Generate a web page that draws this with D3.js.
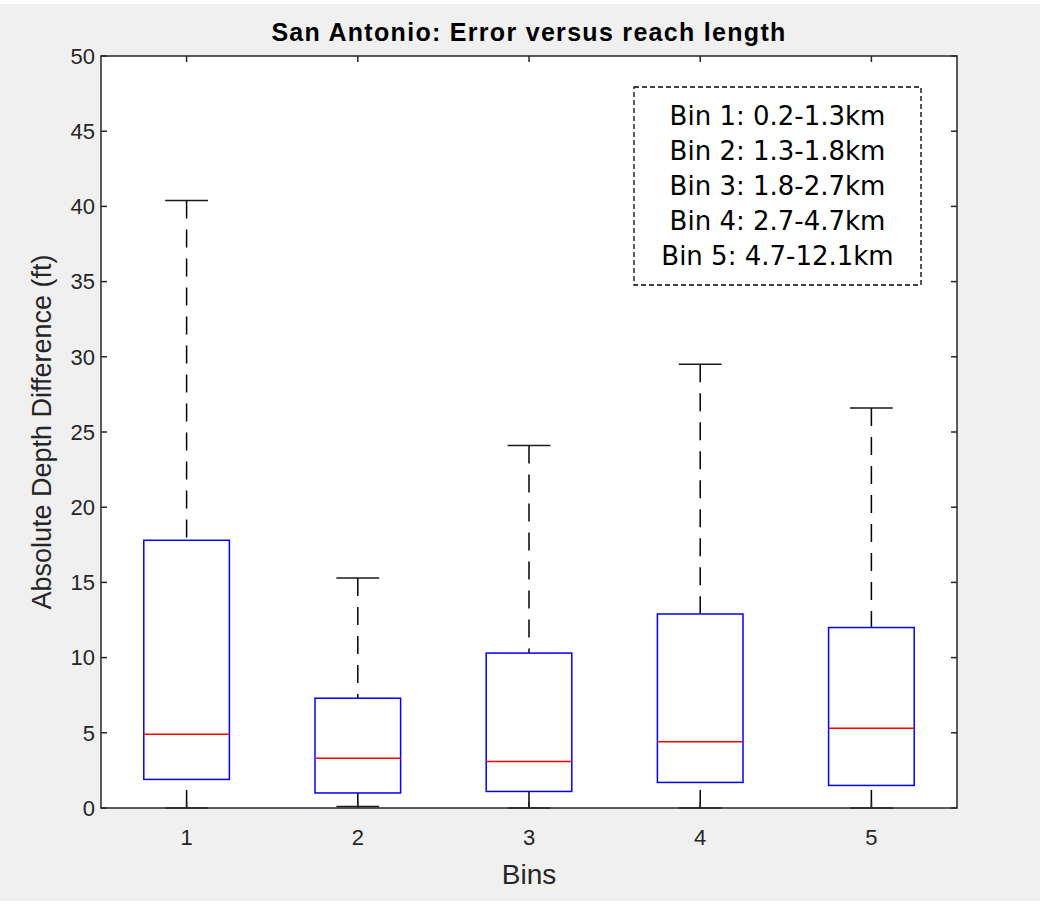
<!DOCTYPE html>
<html>
<head>
<meta charset="utf-8">
<script src="https://cdn.jsdelivr.net/npm/d3@7"></script>
<style>
  html, body { margin: 0; padding: 0; background: #ffffff; }
  svg { display: block; }
</style>
</head>
<body>
<svg id="chart" width="1040" height="905"></svg>
<script>
// Box-plot statistics per reach-length bin (ft)
const bins = [1, 2, 3, 4, 5];
const whiskerLow = [0.0, 0.1, 0.0, 0.0, 0.0];
const q1 = [1.9, 1.0, 1.1, 1.7, 1.5];
const medians = [4.9, 3.3, 3.1, 4.4, 5.3];
const q3 = [17.8, 7.3, 10.3, 12.9, 12.0];
const whiskerHigh = [40.4, 15.3, 24.1, 29.5, 26.6];

// Axis ticks and annotation text
const yTicks = [0, 5, 10, 15, 20, 25, 30, 35, 40, 45, 50];
const xTicks = [1, 2, 3, 4, 5];
const binRanges = [
  "Bin 1: 0.2-1.3km",
  "Bin 2: 1.3-1.8km",
  "Bin 3: 1.8-2.7km",
  "Bin 4: 2.7-4.7km",
  "Bin 5: 4.7-12.1km"
];
const titleText = "San Antonio: Error versus reach length";
const xLabel = "Bins";
const yLabel = "Absolute Depth Difference (ft)";

const svg = d3.select("#chart");
const W = 1040, H = 905;
const axisColor = "#262626";

// Figure background
svg.append("rect").attr("x", 0).attr("y", 4).attr("width", W).attr("height", H - 8)
  .attr("fill", "#f0f0f0");

const plot = { left: 101, right: 957, top: 56, bottom: 808 };

const x = d3.scaleLinear().domain([0.5, 5.5]).range([plot.left, plot.right]);
const y = d3.scaleLinear().domain([0, 50]).range([plot.bottom, plot.top]);

// Axes area
svg.append("rect")
  .attr("x", plot.left).attr("y", plot.top)
  .attr("width", plot.right - plot.left).attr("height", plot.bottom - plot.top)
  .attr("fill", "#ffffff");

const boxHalf = 0.25, capHalf = 0.125;
const stats = bins.map((b, i) => ({
  bin: b, lo: whiskerLow[i], q1: q1[i], med: medians[i], q3: q3[i], hi: whiskerHigh[i]
}));

const g = svg.append("g");

// Whiskers (dashed) from box edges out to the caps
g.selectAll(".whisker-hi").data(stats).join("line")
  .attr("x1", d => x(d.bin)).attr("x2", d => x(d.bin))
  .attr("y1", d => y(d.hi)).attr("y2", d => y(d.q3))
  .attr("stroke", "#000").attr("stroke-width", 1.5)
  .attr("stroke-dasharray", "18,11");
g.selectAll(".whisker-lo").data(stats).join("line")
  .attr("x1", d => x(d.bin)).attr("x2", d => x(d.bin))
  .attr("y1", d => y(d.lo)).attr("y2", d => y(d.q1))
  .attr("stroke", "#000").attr("stroke-width", 1.5)
  .attr("stroke-dasharray", "18,11");

// Caps
["hi", "lo"].forEach(k => {
  g.selectAll(".cap-" + k).data(stats).join("line")
    .attr("x1", d => x(d.bin - capHalf)).attr("x2", d => x(d.bin + capHalf))
    .attr("y1", d => y(d[k])).attr("y2", d => y(d[k]))
    .attr("stroke", "#1a1a1a").attr("stroke-width", 1.5);
});

// Boxes
g.selectAll(".box").data(stats).join("rect")
  .attr("x", d => x(d.bin - boxHalf))
  .attr("y", d => y(d.q3))
  .attr("width", d => x(d.bin + boxHalf) - x(d.bin - boxHalf))
  .attr("height", d => y(d.q1) - y(d.q3))
  .attr("fill", "none").attr("stroke", "#0000ff").attr("stroke-width", 1.5);

// Medians
g.selectAll(".median").data(stats).join("line")
  .attr("x1", d => x(d.bin - boxHalf)).attr("x2", d => x(d.bin + boxHalf))
  .attr("y1", d => y(d.med)).attr("y2", d => y(d.med))
  .attr("stroke", "#ff0000").attr("stroke-width", 1.5);

// Axes box with inward ticks on all four sides
const frame = svg.append("g").attr("stroke", axisColor).attr("stroke-width", 1.5).attr("fill", "none");
frame.append("rect")
  .attr("x", plot.left).attr("y", plot.top)
  .attr("width", plot.right - plot.left).attr("height", plot.bottom - plot.top);
const tickLen = 6;
yTicks.forEach(t => {
  frame.append("line").attr("x1", plot.left).attr("x2", plot.left + tickLen).attr("y1", y(t)).attr("y2", y(t));
  frame.append("line").attr("x1", plot.right).attr("x2", plot.right - tickLen).attr("y1", y(t)).attr("y2", y(t));
});
xTicks.forEach(t => {
  frame.append("line").attr("x1", x(t)).attr("x2", x(t)).attr("y1", plot.bottom).attr("y2", plot.bottom - tickLen);
  frame.append("line").attr("x1", x(t)).attr("x2", x(t)).attr("y1", plot.top).attr("y2", plot.top + tickLen);
});

// Tick labels
const tickFont = "Liberation Sans, Arial, sans-serif";
svg.append("g").selectAll("text").data(yTicks).join("text")
  .attr("x", plot.left - 6).attr("y", d => y(d)).attr("dy", "0.35em")
  .attr("text-anchor", "end").attr("font-family", tickFont).attr("font-size", 22)
  .attr("fill", axisColor).text(d => d);
svg.append("g").selectAll("text").data(xTicks).join("text")
  .attr("x", d => x(d)).attr("y", 845)
  .attr("text-anchor", "middle").attr("font-family", tickFont).attr("font-size", 22)
  .attr("fill", axisColor).text(d => d);

// Axis labels
svg.append("text")
  .attr("x", (plot.left + plot.right) / 2).attr("y", 884)
  .attr("text-anchor", "middle").attr("font-family", tickFont).attr("font-size", 28)
  .attr("fill", axisColor).text(xLabel);
svg.append("text")
  .attr("transform", `translate(51,${(plot.top + plot.bottom) / 2}) rotate(-90)`)
  .attr("text-anchor", "middle").attr("font-family", tickFont).attr("font-size", 27)
  .attr("fill", axisColor).text(yLabel);

// Title
svg.append("text")
  .attr("x", (plot.left + plot.right) / 2).attr("y", 41)
  .attr("text-anchor", "middle").attr("font-family", tickFont).attr("font-size", 25)
  .attr("letter-spacing", 1.3)
  .attr("font-weight", "bold").attr("fill", "#000").text(titleText);

// Bin range annotation box
const note = { x: 634, y: 87, w: 287, h: 198 };
svg.append("rect")
  .attr("x", note.x).attr("y", note.y).attr("width", note.w).attr("height", note.h)
  .attr("fill", "#ffffff").attr("stroke", "#000").attr("stroke-width", 1.3)
  .attr("stroke-dasharray", "5,3");
svg.append("g").selectAll("text").data(binRanges).join("text")
  .attr("x", note.x + note.w / 2)
  .attr("y", (d, i) => 125 + i * 35)
  .attr("text-anchor", "middle").attr("font-family", "DejaVu Sans, sans-serif")
  .attr("font-size", 26).attr("fill", "#000").text(d => d);
</script>
</body>
</html>
